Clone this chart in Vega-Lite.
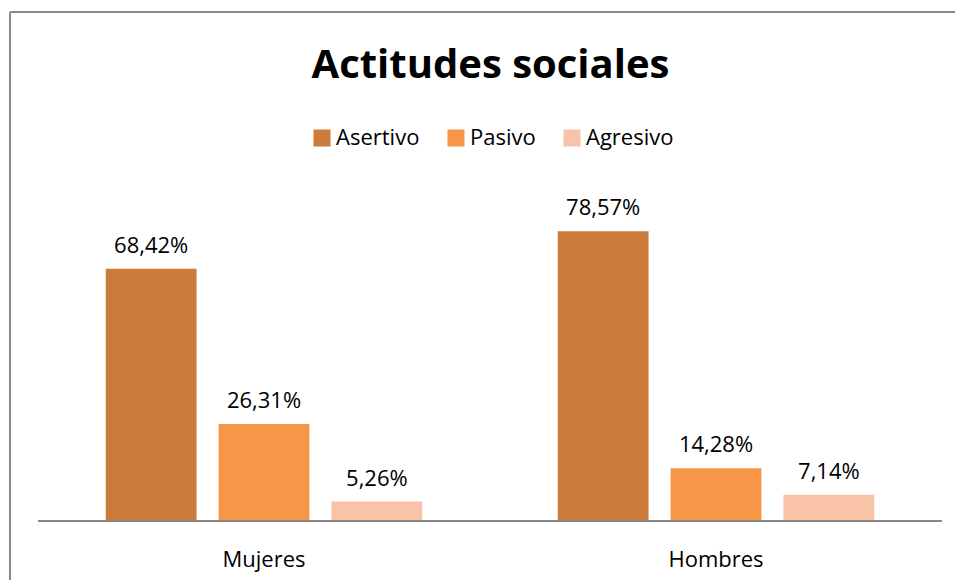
{
  "$schema": "https://vega.github.io/schema/vega-lite/v6.json",
  "width": 945,
  "height": 568,
  "autosize": {"type": "none"},
  "padding": {"left": 10, "top": 12, "right": 0, "bottom": 0},
  "background": "white",
  "title": {
    "text": "Actitudes sociales",
    "frame": "group",
    "anchor": "middle",
    "baseline": "alphabetic",
    "offset": -106,
    "dx": 8,
    "font": "Open Sans",
    "fontSize": 40,
    "fontWeight": "bold",
    "color": "#000000"
  },
  "data": {
    "values": [
      {"grupo": "Mujeres", "actitud": "Asertivo", "valor": 0.6842},
      {"grupo": "Mujeres", "actitud": "Pasivo", "valor": 0.2631},
      {"grupo": "Mujeres", "actitud": "Agresivo", "valor": 0.0526},
      {"grupo": "Hombres", "actitud": "Asertivo", "valor": 0.7857},
      {"grupo": "Hombres", "actitud": "Pasivo", "valor": 0.1428},
      {"grupo": "Hombres", "actitud": "Agresivo", "valor": 0.0714}
    ]
  },
  "layer": [
    {
      "mark": {"type": "bar"},
      "encoding": {
        "x": {
          "field": "grupo",
          "type": "nominal",
          "sort": ["Mujeres", "Hombres"],
          "scale": {"paddingInner": 0, "paddingOuter": 0.04535, "align": 0.683},
          "axis": {
            "orient": "bottom",
            "title": null,
            "domain": false,
            "ticks": false,
            "tickSize": 0,
            "labelAngle": 0,
            "labelPadding": -14,
            "labelBaseline": "alphabetic",
            "labelFont": "Open Sans",
            "labelFontSize": 22,
            "labelColor": "#000000"
          }
        },
        "xOffset": {
          "field": "actitud",
          "type": "nominal",
          "sort": ["Asertivo", "Pasivo", "Agresivo"],
          "scale": {"paddingInner": 0.195, "paddingOuter": 0.6}
        },
        "y": {
          "field": "valor",
          "type": "quantitative",
          "scale": {"domain": [-0.16, 1.38], "nice": false, "zero": false},
          "axis": null
        },
        "color": {
          "field": "actitud",
          "type": "nominal",
          "sort": ["Asertivo", "Pasivo", "Agresivo"],
          "scale": {
            "domain": ["Asertivo", "Pasivo", "Agresivo"],
            "range": ["#CB7B3A", "#F79646", "#F9C3A8"]
          },
          "legend": {
            "orient": "none",
            "legendX": 301,
            "legendY": 115,
            "direction": "horizontal",
            "title": null,
            "symbolType": "square",
            "symbolSize": 289,
            "symbolStrokeWidth": 0,
            "symbolOpacity": 1,
            "labelFont": "Open Sans",
            "labelFontSize": 22,
            "labelColor": "#000000",
            "labelOffset": 3,
            "columnPadding": 25,
            "padding": 0
          }
        }
      }
    },
    {
      "mark": {
        "type": "text",
        "baseline": "alphabetic",
        "dy": -16,
        "font": "Open Sans",
        "fontSize": 22,
        "color": "#000000"
      },
      "encoding": {
        "x": {"field": "grupo", "type": "nominal", "sort": ["Mujeres", "Hombres"]},
        "xOffset": {"field": "actitud", "type": "nominal", "sort": ["Asertivo", "Pasivo", "Agresivo"]},
        "y": {"field": "valor", "type": "quantitative"},
        "text": {"field": "valor", "type": "quantitative", "format": ".2%"}
      }
    },
    {
      "data": {"values": [{}]},
      "mark": {"type": "rule", "color": "#898989", "strokeWidth": 2},
      "encoding": {
        "x": {"datum": "Mujeres", "type": "nominal", "bandPosition": 0},
        "x2": {"datum": "Hombres", "bandPosition": 1},
        "y": {"datum": 0, "type": "quantitative"}
      }
    }
  ],
  "config": {
    "view": {"stroke": "#898989", "strokeWidth": 2, "strokeDash": [945, 1513, 568, 0]},
    "axis": {"grid": false},
    "locale": {
      "number": {"decimal": ",", "thousands": ".", "grouping": [3], "currency": ["", " €"]}
    }
  }
}
